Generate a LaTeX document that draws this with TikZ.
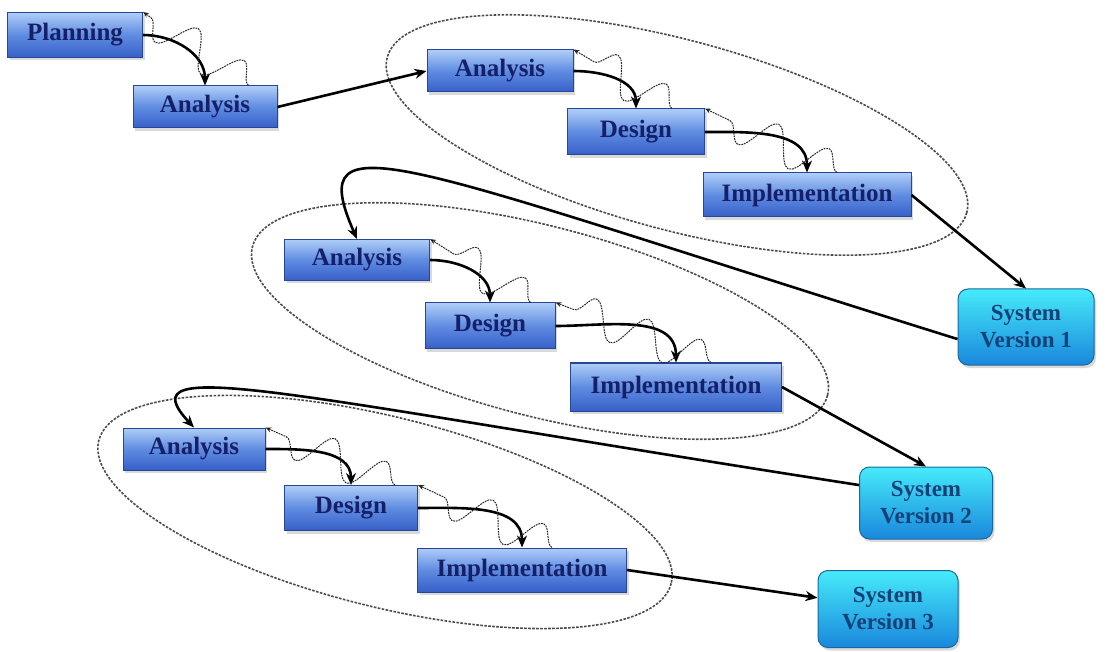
\documentclass[tikz,border=0pt]{standalone}
\usepackage{fontspec}
\setmainfont{Liberation Serif}
\usepackage{xcolor}
\usepackage{tikz}
\usetikzlibrary{arrows.meta, shadows, decorations.pathmorphing, calc}
\definecolor{phasetop}{RGB}{175,205,248}
\definecolor{phasemid}{RGB}{95,140,225}
\definecolor{phasebot}{RGB}{55,95,200}
\definecolor{phaseedge}{RGB}{40,70,150}
\definecolor{phasetext}{RGB}{22,32,105}
\definecolor{systop}{RGB}{70,235,250}
\definecolor{sysbot}{RGB}{25,135,220}
\definecolor{sysedge}{RGB}{25,105,155}
\definecolor{systext}{RGB}{20,65,120}
\tikzstyle{phase} = [rectangle, draw=phaseedge, line width=1pt, top color=phasetop, bottom color=phasebot, middle color=phasemid, text=phasetext, font=\bfseries\fontsize{25}{27}\selectfont, inner sep=0pt, minimum height=44pt, drop shadow={opacity=0.3, shadow xshift=2pt, shadow yshift=-3pt}]
\tikzstyle{release} = [rectangle, rounded corners=10pt, draw=sysedge, line width=1pt, top color=systop, bottom color=sysbot, text=systext, font=\bfseries\fontsize{23}{27}\selectfont, align=center, inner sep=0pt, minimum width=136pt, minimum height=76pt, drop shadow={opacity=0.3, shadow xshift=2pt, shadow yshift=-3pt}]
\tikzstyle{arrow} = [line width=2.6pt, -{Stealth[length=12pt, width=10pt]}]
\tikzstyle{rework} = [decorate, decoration={snake, amplitude=-18pt, segment length=56pt, post length=4pt}, dash pattern=on 1.8pt off 0.9pt, line width=1pt, draw=black!85, -{Stealth[length=6pt, width=5pt]}]
\tikzstyle{loopring} = [dash pattern=on 2.6pt off 1.4pt, line width=1.6pt, draw=black!70]

\begin{document}
\begin{tikzpicture}[x=1pt, y=-1pt]
\useasboundingbox (0,0) rectangle (1106,652);

% Iteration rings
\draw [loopring, rotate around={-15:(677,135)}] (677,135) ellipse [x radius=300, y radius=95];
\draw [loopring, rotate around={-14.5:(540,321)}] (540,321) ellipse [x radius=297, y radius=95];
\draw [loopring, rotate around={-14:(385,512)}] (385,512) ellipse [x radius=295, y radius=95];

% Start
\node (plan) [phase, minimum width=135pt, minimum height=45pt] at (75,35) {Planning};
\node (ana0) [phase, minimum width=144pt, minimum height=42pt] at (205,107) {Analysis};

% Iteration 1
\node (ana1) [phase, minimum width=146pt, minimum height=42pt] at (500,71) {Analysis};
\node (des1) [phase, minimum width=137pt, minimum height=46pt] at (636,132) {Design};
\node (imp1) [phase, minimum width=208pt] at (807,195) {Implementation};
\node (sv1) [release] at (1026,327) {System\\Version 1};

% Iteration 2
\node (ana2) [phase, minimum width=145pt, minimum height=41pt] at (357,260) {Analysis};
\node (des2) [phase, minimum width=130pt, minimum height=46pt] at (490,326) {Design};
\node (imp2) [phase, minimum width=211pt, minimum height=48pt] at (676,387) {Implementation};
\node (sv2) [release, minimum width=133pt, minimum height=72pt] at (926,503) {System\\Version 2};

% Iteration 3
\node (ana3) [phase, minimum width=142pt, minimum height=42pt] at (194,449) {Analysis};
\node (des3) [phase, minimum width=133pt, minimum height=45pt] at (351,508) {Design};
\node (imp3) [phase, minimum width=209pt] at (522,570) {Implementation};
\node (sv3) [release, minimum width=140pt, minimum height=77pt] at (888,609) {System\\Version 3};

% Forward flow
\draw [arrow] (plan.east) to[out=0, in=90] (ana0.north);
\draw [arrow] (ana0.east) -- (ana1.west);
\draw [arrow] (ana1.east) to[out=0, in=90] (des1.north);
\draw [arrow] (des1.east) to[out=0, in=90] (imp1.north);
\draw [arrow] (imp1.east) -- (sv1.north);
\draw [arrow] (sv1.190) .. controls +(-560,-175) and +(-55,-125) .. (ana2.north);
\draw [arrow] (ana2.east) to[out=0, in=90] (des2.north);
\draw [arrow] (des2.east) to[out=0, in=90] (imp2.north);
\draw [arrow] (imp2.east) -- (sv2.north);
\draw [arrow] (sv2.165) .. controls +(-580,-90) and +(-70,-75) .. (ana3.north);
\draw [arrow] (ana3.east) to[out=0, in=90] (des3.north);
\draw [arrow] (des3.east) to[out=0, in=90] (imp3.north);
\draw [arrow] (imp3.east) -- (sv3.171);

% Feedback
\draw [rework] ([xshift=-29pt]ana0.north east) -- (plan.north east);
\draw [rework] ([xshift=-33pt]des1.north east) -- (ana1.north east);
\draw [rework] ([xshift=30pt]imp1.north) -- (des1.north east);
\draw [rework] ([xshift=-25pt]des2.north east) -- (ana2.north east);
\draw [rework] ([xshift=35pt]imp2.north) -- (des2.north east);
\draw [rework] ([xshift=-23pt]des3.north east) -- (ana3.north east);
\draw [rework] ([xshift=30pt]imp3.north) -- (des3.north east);

\end{tikzpicture}
\end{document}
